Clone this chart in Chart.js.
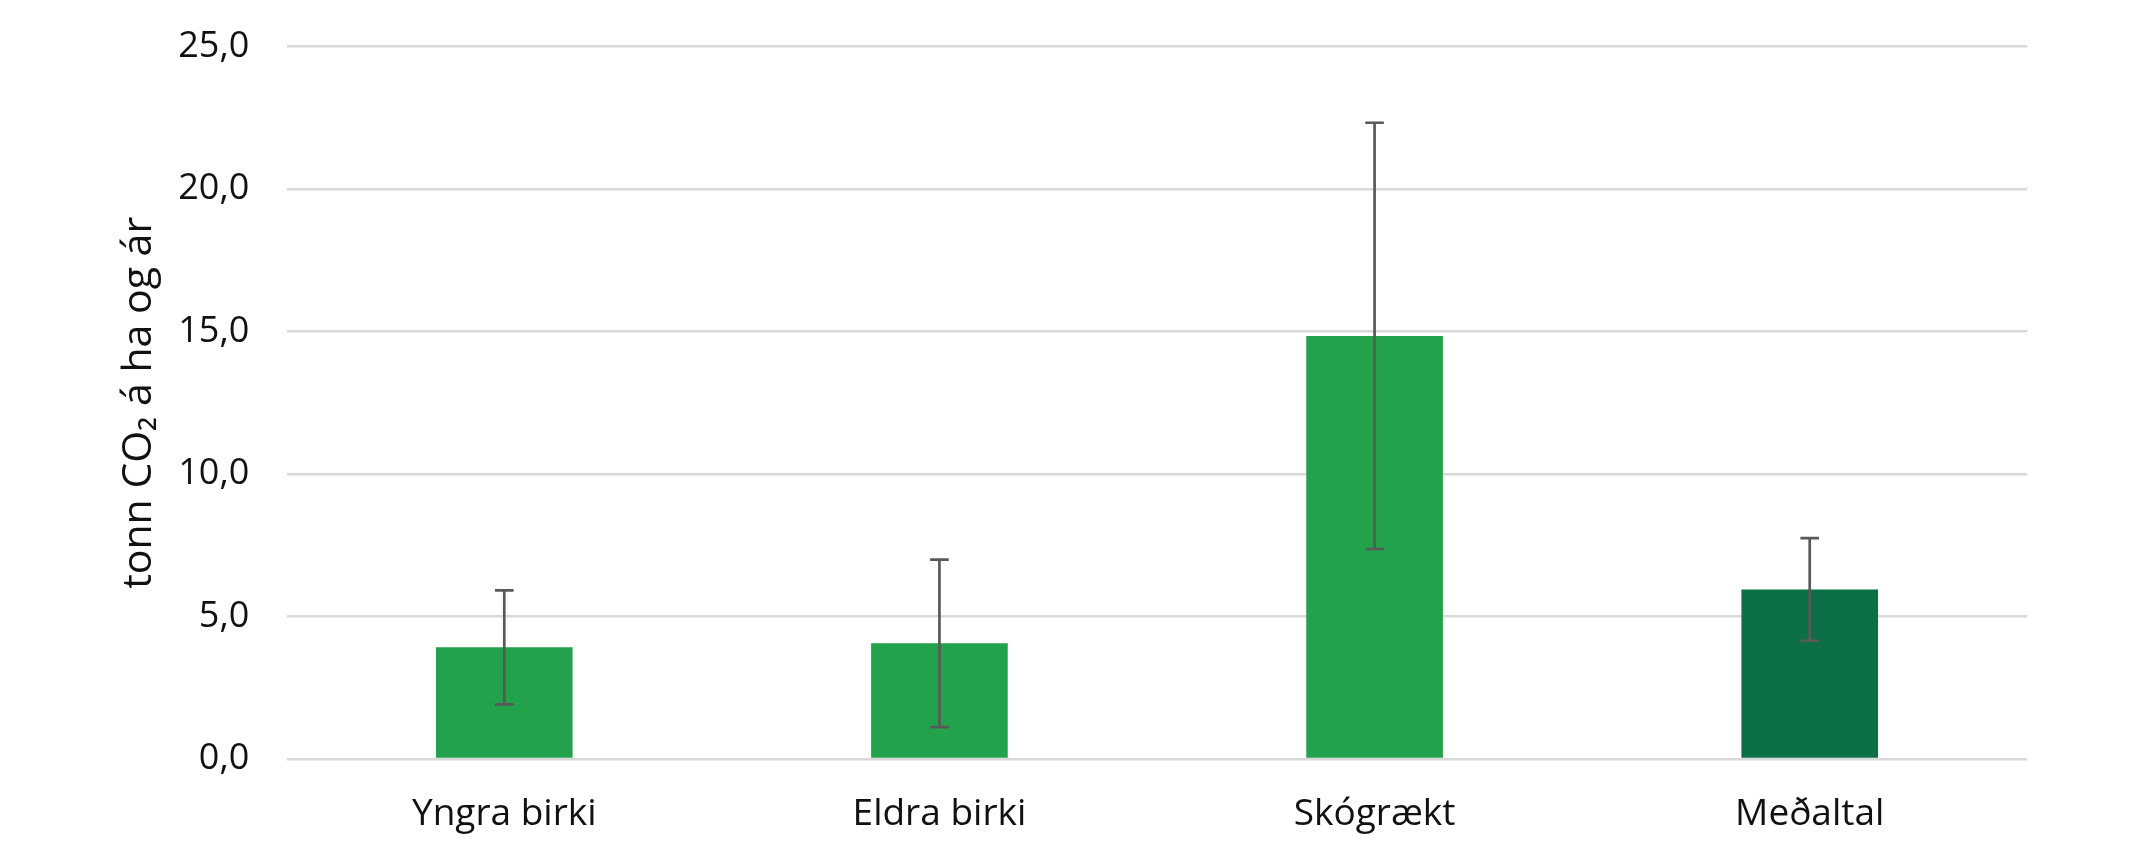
<!DOCTYPE html>
<html>
<head>
<meta charset="utf-8">
<script src="https://cdn.jsdelivr.net/npm/chart.js@4.4.1/dist/chart.umd.min.js"></script>
<style>
  html, body { margin: 0; padding: 0; background: #fff; }
  #wrap { width: 2134px; height: 860px; position: relative; }
</style>
</head>
<body>
<div id="wrap"><canvas id="chart"></canvas></div>
<script>
// data
const categories = ['Yngra birki', 'Eldra birki', 'Skógrækt', 'Meðaltal'];
const values = [3.92, 4.06, 14.85, 5.95];
const errors = [2.0, 2.94, 7.48, 1.8];
const barColors = ['#21a24b', '#21a24b', '#21a24b', '#0d6f46'];
const yTickLabels = ['0,0', '5,0', '10,0', '15,0', '20,0', '25,0'];
const yTitle = 'tonn CO\u2082 á ha og ár';

const FONT = "'Open Sans', 'Noto Sans', sans-serif";

// draws the whisker for each bar using the y scale
const errorBars = {
  id: 'errorBars',
  afterDatasetsDraw(chart) {
    const ctx = chart.ctx;
    const y = chart.scales.y;
    const meta = chart.getDatasetMeta(0);
    ctx.save();
    ctx.strokeStyle = '#595959';
    ctx.lineWidth = 2.7;
    meta.data.forEach((bar, i) => {
      const x = bar.x;
      const top = y.getPixelForValue(values[i] + errors[i]);
      const bot = y.getPixelForValue(values[i] - errors[i]);
      const cap = 9.3;
      ctx.beginPath();
      ctx.moveTo(x, top); ctx.lineTo(x, bot);
      ctx.moveTo(x - cap, top); ctx.lineTo(x + cap, top);
      ctx.moveTo(x - cap, bot); ctx.lineTo(x + cap, bot);
      ctx.stroke();
    });
    ctx.restore();
  }
};

new Chart(document.getElementById('chart'), {
  type: 'bar',
  data: {
    labels: categories,
    datasets: [{
      data: values,
      backgroundColor: barColors,
      borderWidth: 0,
      barPercentage: 0.314,
      categoryPercentage: 1.0
    }]
  },
  options: {
    responsive: true,
    maintainAspectRatio: false,
    animation: false,
    devicePixelRatio: 1,
    layout: { autoPadding: false, padding: { left: 0, right: 106.7, top: 46.7, bottom: 0 } },
    plugins: {
      legend: { display: false },
      tooltip: { enabled: false }
    },
    scales: {
      x: {
        grid: { display: false },
        border: { display: false },
        ticks: {
          color: '#111',
          font: { family: FONT, size: 37 },
          padding: 25,
          maxRotation: 0
        },
        afterFit(scale) { scale.height = 101; }
      },
      y: {
        min: 0,
        max: 25,
        // tick marks are invisible, they only push the labels away from the plot
        grid: { color: '#d9d9d9', lineWidth: 2.5, drawTicks: true, tickLength: 37.4, tickColor: 'rgba(0,0,0,0)' },
        border: { display: false },
        ticks: {
          stepSize: 5,
          color: '#111',
          font: { family: FONT, size: 36 },
          padding: 0,
          callback: (v, i) => yTickLabels[i]
        },
        title: {
          display: true,
          text: yTitle,
          color: '#111',
          font: { family: FONT, size: 41 },
          padding: { top: 115, bottom: 0 }
        },
        afterFit(scale) { scale.width = 286.7; }
      }
    }
  },
  plugins: [errorBars]
});
</script>
</body>
</html>
